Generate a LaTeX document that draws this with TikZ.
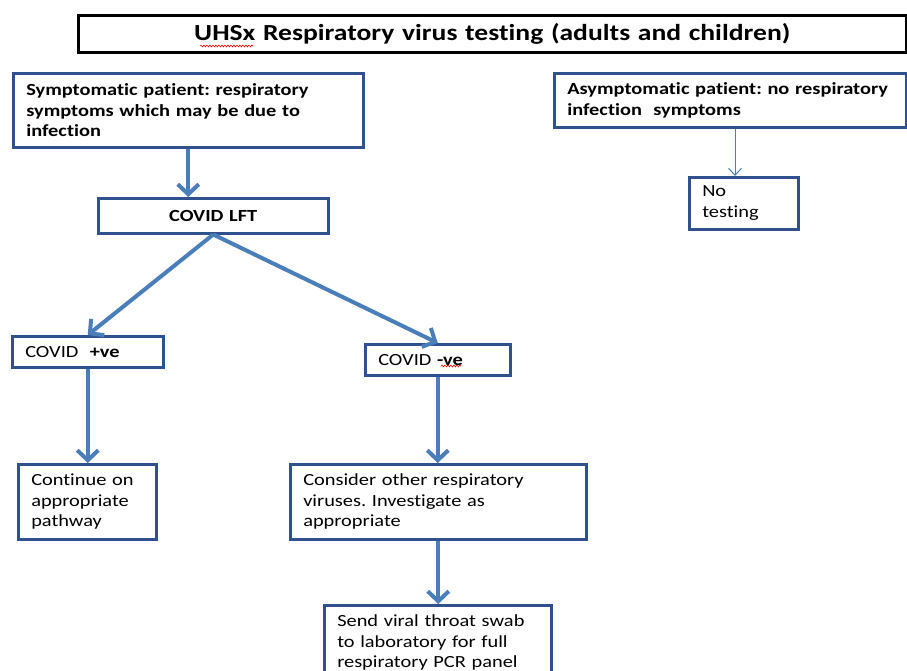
\documentclass[tikz,border=0pt]{standalone}
\usepackage{fontspec}
\setmainfont{Carlito}[FakeStretch=1.2,Ligatures=NoCommon]
\usetikzlibrary{arrows.meta,decorations.pathmorphing}
\definecolor{boxblue}{HTML}{2F528F}
\definecolor{arrowblue}{HTML}{4A7EBB}
\frenchspacing
\begin{document}
\begin{tikzpicture}[x=1pt,y=-1pt,
  box/.style={draw=boxblue,line width=2.5pt,anchor=north west,inner xsep=13pt,inner ysep=0pt,
    align=left,fill=white,font=\fontsize{17}{20.5}\selectfont},
  bigarrow/.style={draw=arrowblue,line width=4pt,-{Straight Barb[length=10pt,width=21pt]}},
  thinarrow/.style={draw=arrowblue,line width=1pt,-{Straight Barb[length=7pt,width=13pt]}},
  spell/.style={draw=red,line width=0.6pt,decorate,decoration={snake,amplitude=0.9pt,segment length=3pt}}]
\useasboundingbox (0,0) rectangle (907,670);
\clip (0,0) rectangle (907,670);
\fill[white] (0,0) rectangle (907,670);

\node[box,draw=black,minimum width=828pt,minimum height=37pt,text width=802pt,align=center,
  font=\fontsize{23}{26}\selectfont\bfseries] (title) at (77,14) {UHSx Respiratory virus testing (adults and children)};

\node[box,minimum width=350pt,minimum height=74pt,text width=324pt,font=\fontsize{17}{20.5}\selectfont\bfseries] (sym) at (12,72)
  {Symptomatic patient: respiratory\\symptoms which may be due to\\infection};
\node[box,minimum width=230pt,minimum height=35pt,text width=204pt,align=center,font=\fontsize{17}{20.5}\selectfont\bfseries] (lft) at (97,197) {COVID LFT};

\node[box,minimum width=352pt,minimum height=54pt,text width=326pt,font=\fontsize{17}{20.5}\selectfont\bfseries] (asym) at (553,72)
  {Asymptomatic patient: no respiratory\\infection\ \ symptoms};
\node[box,minimum width=109pt,minimum height=52pt,text width=83pt] (notest) at (688,176) {No\\testing};

\node[box,minimum width=151pt,minimum height=31pt,text width=125pt] (pos) at (11,335) {COVID\ \ \textbf{+ve}};
\node[box,minimum width=145pt,minimum height=31pt,text width=119pt] (neg) at (364,343) {COVID \textbf{-ve}};

\node[box,minimum width=138pt,minimum height=75pt,text width=112pt] (cont) at (17,463) {Continue on\\appropriate\\pathway};
\node[box,minimum width=296pt,minimum height=75pt,text width=270pt] (cons) at (289,463) {Consider other respiratory\\viruses. Investigate as\\appropriate};
\node[box,minimum width=227pt,minimum height=75pt,text width=201pt] (send) at (323,604) {Send viral throat swab\\to laboratory for full\\respiratory PCR panel};

\draw[bigarrow] (sym.south) -- (sym.south |- lft.north);
\draw[bigarrow] (lft.south) -- (pos.north);
\draw[bigarrow] (lft.south) -- (neg.north);
\draw[bigarrow] (pos.south) -- (pos.south |- cont.north);
\draw[bigarrow] (neg.south) -- (neg.south |- cons.north);
\draw[bigarrow] (cons.south) -- (cons.south |- send.north);
\coordinate (asymout) at (asym.south -| 735,0);
\draw[thinarrow] (asymout) -- (asymout |- notest.north);

\draw[spell] (200,46) -- (253,46);
\draw[spell] (441,366) -- (461,366);
\end{tikzpicture}
\end{document}
